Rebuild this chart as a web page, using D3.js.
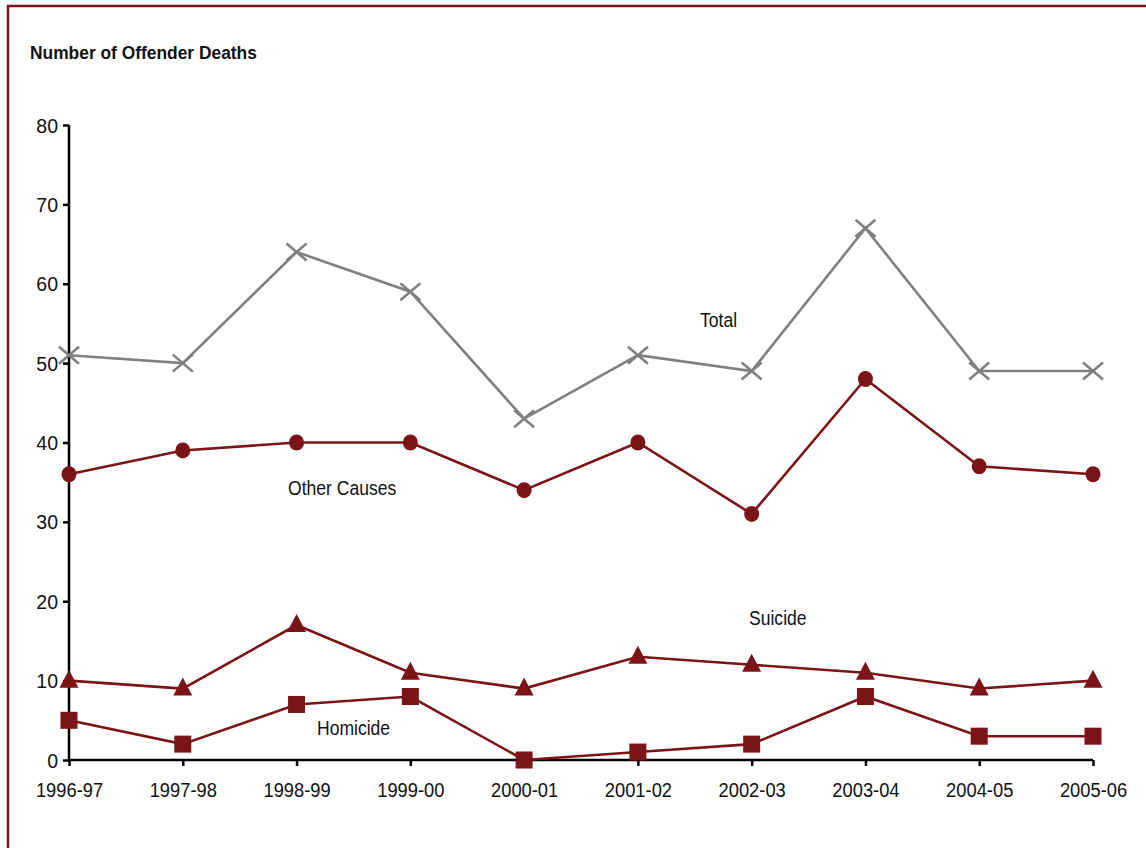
<!DOCTYPE html>
<html>
<head>
<meta charset="utf-8">
<script src="https://cdn.jsdelivr.net/npm/d3@7"></script>
<style>
  html, body { margin: 0; padding: 0; background: #fff; }
  svg { display: block; }
  text { font-family: "Liberation Sans", Arial, sans-serif; fill: #111; }
</style>
</head>
<body>
<svg id="chart" width="1146" height="848"></svg>
<script>
// Offender deaths by financial year
const years = ["1996-97", "1997-98", "1998-99", "1999-00", "2000-01", "2001-02", "2002-03", "2003-04", "2004-05", "2005-06"];
const total = [51, 50, 64, 59, 43, 51, 49, 67, 49, 49];
const otherCauses = [36, 39, 40, 40, 34, 40, 31, 48, 37, 36];
const suicide = [10, 9, 17, 11, 9, 13, 12, 11, 9, 10];
const homicide = [5, 2, 7, 8, 0, 1, 2, 8, 3, 3];
const yTicks = [0, 10, 20, 30, 40, 50, 60, 70, 80];

const RED = "#7b1416";
const GREY = "#808080";

const svg = d3.select("#chart");

// frame
svg.append("rect")
  .attr("x", 8).attr("y", 6)
  .attr("width", 1160).attr("height", 860)
  .attr("fill", "none").attr("stroke", RED).attr("stroke-width", 2.5);

// condensed text: draw at origin, then translate and squeeze horizontally
function condensed(sel, k) {
  sel.each(function () {
    const t = d3.select(this);
    const px = +t.attr("x"), py = +t.attr("y");
    t.attr("x", 0).attr("y", 0)
      .attr("transform", `translate(${px},${py}) scale(${k},1)`);
  });
}

svg.append("text")
  .attr("x", 30).attr("y", 59)
  .style("font-size", "18.5px").style("font-weight", "bold")
  .text("Number of Offender Deaths")
  .call(condensed, 0.94);

const x = d3.scalePoint().domain(years).range([69, 1093]);
const y = d3.scaleLinear().domain([0, 80]).range([760, 125]);

// axes
const yAxis = svg.append("g").attr("transform", "translate(69,0)")
  .call(d3.axisLeft(y).tickValues(yTicks).tickSize(6).tickPadding(5));
const xAxis = svg.append("g").attr("transform", "translate(0,760)")
  .call(d3.axisBottom(x).tickSize(6).tickPadding(17));

[yAxis, xAxis].forEach(g => {
  g.select(".domain").attr("stroke", "#000").attr("stroke-width", 2.5);
  g.selectAll(".tick line").attr("stroke", "#000").attr("stroke-width", 2.5);
  g.selectAll(".tick text").style("font-size", "19.5px").attr("fill", "#111");
});
yAxis.selectAll(".tick text").attr("dy", "0.36em");
xAxis.selectAll(".tick text").attr("transform", "scale(0.94,1)");
yAxis.select(".domain").attr("d", "M0,125V760");
xAxis.select(".domain").attr("d", "M69,0H1093");

const line = d3.line().x((d, i) => x(years[i])).y(d => y(d));

function drawSeries(values, color) {
  svg.append("path")
    .datum(values)
    .attr("d", line)
    .attr("fill", "none")
    .attr("stroke", color)
    .attr("stroke-width", 2.6);
}

drawSeries(total, GREY);
drawSeries(otherCauses, RED);
drawSeries(suicide, RED);
drawSeries(homicide, RED);

// markers
svg.append("g").selectAll("path")
  .data(total).join("path")
  .attr("transform", (d, i) => `translate(${x(years[i])},${y(d)})`)
  .attr("d", "M-10,-8.5L10,8.5M-10,8.5L10,-8.5")
  .attr("stroke", GREY).attr("stroke-width", 2.6).attr("fill", "none");

svg.append("g").selectAll("ellipse")
  .data(otherCauses).join("ellipse")
  .attr("cx", (d, i) => x(years[i])).attr("cy", d => y(d))
  .attr("rx", 7.5).attr("ry", 8).attr("fill", RED);

svg.append("g").selectAll("path")
  .data(suicide).join("path")
  .attr("transform", (d, i) => `translate(${x(years[i])},${y(d)})`)
  .attr("d", "M0,-11L9.5,7L-9.5,7Z")
  .attr("fill", RED);

svg.append("g").selectAll("rect")
  .data(homicide).join("rect")
  .attr("x", (d, i) => x(years[i]) - 8.5).attr("y", d => y(d) - 8.5)
  .attr("width", 17).attr("height", 17)
  .attr("fill", RED);

// series labels
const seriesLabels = [
  { text: "Total", x: 700, y: 327 },
  { text: "Other Causes", x: 288, y: 495 },
  { text: "Suicide", x: 749, y: 625 },
  { text: "Homicide", x: 317, y: 735 }
];
svg.append("g").selectAll("text")
  .data(seriesLabels).join("text")
  .attr("x", d => d.x).attr("y", d => d.y)
  .style("font-size", "19.5px")
  .text(d => d.text)
  .call(condensed, 0.9);
</script>
</body>
</html>
